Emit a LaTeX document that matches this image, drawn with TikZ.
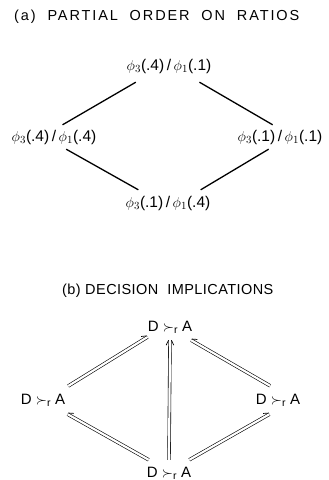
\documentclass[tikz,border=0pt]{standalone}
\usepackage{fontspec}
\setmainfont{Liberation Sans}
\newfontfamily\ttlfont[LetterSpace=13]{Liberation Sans}
\newfontfamily\ttlbfont[LetterSpace=3]{Liberation Sans}
\usetikzlibrary{decorations.markings}
\newcommand{\barbseg}[2]{\pgfpathmoveto{\pgfpoint{0pt}{#1}}\pgfpathlineto{\pgfpoint{-5pt}{#2}}}
\begin{document}
\begin{tikzpicture}[x=1pt,y=-1pt,
  ttl/.style={font=\ttlfont\fontsize{14.5}{16}\selectfont, inner sep=0pt},
  ttlb/.style={font=\ttlbfont\fontsize{14.5}{16}\selectfont, inner sep=0pt},
  lbl/.style={font=\fontsize{15.5}{17}\selectfont, inner sep=0pt},
  rel/.style={font=\fontsize{15}{17}\selectfont, inner sep=0pt},
  ln/.style={line width=1.3pt},
  dblline/.style={draw, double, double distance=2.2pt, line width=0.6pt},
  barbL/.style={dblline, postaction={decorate, decoration={markings, mark=at position 1 with {\pgfsetlinewidth{0.7pt}\barbseg{1.4pt}{3.8pt}\pgfusepath{stroke}}}}},
  barbR/.style={dblline, postaction={decorate, decoration={markings, mark=at position 1 with {\pgfsetlinewidth{0.7pt}\barbseg{-1.4pt}{-3.8pt}\pgfusepath{stroke}}}}},
  barbB/.style={dblline, postaction={decorate, decoration={markings, mark=at position 1 with {\pgfsetlinewidth{0.7pt}\barbseg{1.4pt}{3.8pt}\barbseg{-1.4pt}{-3.8pt}\pgfusepath{stroke}}}}}
]
\useasboundingbox (0,0) rectangle (329,480);
% (a)
\node[ttl, anchor=west] (ta) at (14,17) {(a)\ \ PARTIAL\ \ ORDER\ \ ON\ \ RATIOS};
\node[lbl, minimum width=114pt, minimum height=32pt] (at) at (169,66) {$\phi_3$(.4)\,/\,$\phi_1$(.1)};
\node[lbl, minimum width=100pt, minimum height=24pt] (al) at (54,137) {$\phi_3$(.4)\,/\,$\phi_1$(.4)};
\node[lbl, minimum width=100pt, minimum height=24pt] (ar) at (280,137) {$\phi_3$(.1)\,/\,$\phi_1$(.1)};
\node[lbl, minimum width=110pt, minimum height=26pt] (ab) at (168,203) {$\phi_3$(.1)\,/\,$\phi_1$(.4)};
\draw[ln] (at.206.6) -- (al.55.3);
\draw[ln] (at.332.7) -- (ar.121.6);
\draw[ln] (al.315) -- (ab.156.6);
\draw[ln] (ar.227.7) -- (ab.22.1);
% (b)
\node[ttlb, anchor=west] (tb) at (62,291) {(b)\ DECISION\ \ IMPLICATIONS};
\node[rel, minimum width=44pt, minimum height=26pt] (bt) at (170,327) {D\ $\succ_{\mathrm{r}}$\ A};
\node[rel, minimum width=50pt, minimum height=28pt] (bl) at (43,400) {D\ $\succ_{\mathrm{r}}$\ A};
\node[rel, minimum width=50pt, minimum height=28pt] (br) at (278,400) {D\ $\succ_{\mathrm{r}}$\ A};
\node[rel, minimum width=46pt, minimum height=26pt] (bb) at (169,473) {D\ $\succ_{\mathrm{r}}$\ A};
\draw[barbL] (bl.29.2) -- (bt.204.4);
\draw[barbR] (br.119.7) -- (bt.328.2);
\draw[barbR] (bb.147) -- (bl.330.8);
\draw[barbL] (bb.33) -- (br.239.7);
\draw[barbB] (bb.90) -- (bt.270);
\end{tikzpicture}
\end{document}
